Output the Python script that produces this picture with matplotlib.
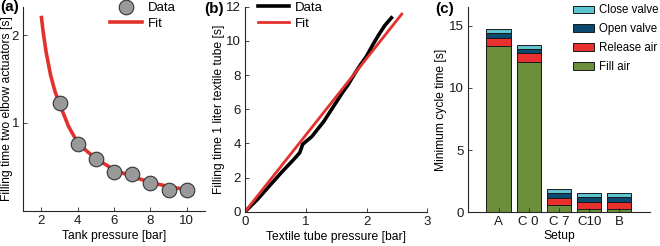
import matplotlib.pyplot as plt
from matplotlib.ticker import ScalarFormatter, NullLocator

plt.rcParams['font.family'] = ['Liberation Sans', 'DejaVu Sans']

# (a) filling time vs tank pressure
tank_p = [3, 4, 5, 6, 7, 8, 9, 10]
fill_t = [1.17, 0.85, 0.75, 0.68, 0.67, 0.62, 0.59, 0.59]
fit_p = [2, 2.1, 2.25, 2.5, 2.75, 3, 3.5, 4, 4.5, 5, 6, 7, 8, 9, 10]
fit_t = [2.30, 2.04, 1.76, 1.46, 1.28, 1.16, 0.97, 0.855, 0.80, 0.755, 0.69, 0.655, 0.625, 0.605, 0.59]

# (b) filling time vs textile tube pressure
tube_p = [0, 0.2, 0.4, 0.6, 0.8, 0.9, 0.95, 1.0, 1.1, 1.2, 1.3, 1.4, 1.5, 1.6, 1.7,
          1.8, 1.9, 2.0, 2.1, 2.2, 2.3, 2.41]
tube_t = [0, 0.7, 1.5, 2.3, 3.05, 3.45, 3.95, 4.1, 4.4, 4.85, 5.3, 5.85, 6.4, 6.95, 7.45,
          8.05, 8.6, 9.1, 9.75, 10.35, 10.9, 11.35]
line_p = [0, 2.58]
line_t = [0, 11.57]

# (c) minimum cycle time
setups = ['A', 'C 0', 'C 7', 'C10', 'B']
fill_air = [13.37, 12.11, 0.56, 0.24, 0.24]
release_air = [0.67, 0.67, 0.62, 0.62, 0.62]
open_valve = [0.40, 0.35, 0.40, 0.37, 0.37]
close_valve = [0.27, 0.29, 0.27, 0.30, 0.30]

red = '#e3312d'
axcol = '#262626'
fs = 9.5   # tick labels and legends
lfs = 8.7  # axis labels

fig = plt.figure(figsize=(6.6, 2.46), dpi=100)
ax1 = fig.add_axes([0.0353, 0.1435, 0.2753, 0.828])
ax2 = fig.add_axes([0.3712, 0.1394, 0.2762, 0.8333])
ax3 = fig.add_axes([0.7096, 0.137, 0.2745, 0.8346])

for ax in (ax1, ax2, ax3):
    ax.spines['top'].set_visible(False)
    ax.spines['right'].set_visible(False)
    for s in ('left', 'bottom'):
        ax.spines[s].set_color(axcol)
        ax.spines[s].set_linewidth(0.8)
    ax.tick_params(direction='in', length=3, width=0.6, colors=axcol, labelsize=fs,
                   labelcolor='#1a1a1a', pad=3)

# panel a
ax1.plot(fit_p, fit_t, color=red, lw=2.6, label='Fit', zorder=2)
ax1.plot(tank_p, fill_t, 'o', ms=10.5, mfc='#999999', mec='#333333', mew=0.8,
         label='Data', zorder=3)
ax1.set_yscale('log')
ax1.set_xlim(1, 11)
ax1.set_ylim(0.5, 2.5)
ax1.set_xticks([2, 4, 6, 8, 10])
ax1.set_yticks([1, 2])
ax1.yaxis.set_major_formatter(ScalarFormatter())
ax1.yaxis.set_minor_locator(NullLocator())
ax1.set_xlabel('Tank pressure [bar]', fontsize=lfs, labelpad=2)
ax1.set_ylabel('Filling time two elbow actuators [s]', fontsize=lfs)
ax1.yaxis.set_label_coords(-0.058, 0.5)
h, l = ax1.get_legend_handles_labels()
ax1.legend(h[::-1], l[::-1], loc='upper right', frameon=False, fontsize=fs,
           bbox_to_anchor=(0.87, 1.05), handlelength=2.4, borderaxespad=0,
           labelspacing=0.25, handletextpad=0.5)

# panel b
ax2.plot(tube_p, tube_t, color='black', lw=2.6, label='Data')
ax2.plot(line_p, line_t, color=red, lw=2.0, label='Fit')
ax2.set_xlim(0, 3)
ax2.set_ylim(0, 12)
ax2.set_xticks([0, 1, 2, 3])
ax2.set_yticks([0, 2, 4, 6, 8, 10, 12])
ax2.set_xlabel('Textile tube pressure [bar]', fontsize=lfs, labelpad=2)
ax2.set_ylabel('Filling time 1 liter textile tube [s]', fontsize=lfs, labelpad=1)
ax2.legend(loc='upper left', frameon=False, fontsize=fs, bbox_to_anchor=(0.04, 1.05),
           handlelength=2.4, borderaxespad=0, labelspacing=0.25, handletextpad=0.4)

# panel c
x = list(range(1, len(setups) + 1))
b1 = fill_air
b2 = [a + b for a, b in zip(b1, release_air)]
b3 = [a + b for a, b in zip(b2, open_valve)]
kw = dict(width=0.8, edgecolor='#1a1a1a', linewidth=0.7)
p1 = ax3.bar(x, fill_air, color='#6b8e3a', label='Fill air', **kw)
p2 = ax3.bar(x, release_air, bottom=b1, color='#e8312f', label='Release air', **kw)
p3 = ax3.bar(x, open_valve, bottom=b2, color='#0b4a70', label='Open valve', **kw)
p4 = ax3.bar(x, close_valve, bottom=b3, color='#5cc5d0', label='Close valve', **kw)
ax3.set_xlim(0, 6)
ax3.set_ylim(0, 16.5)
ax3.set_xticks(x)
ax3.set_xticklabels(setups)
ax3.set_yticks([0, 5, 10, 15])
ax3.set_xlabel('Setup', fontsize=lfs, labelpad=1)
ax3.set_ylabel('Minimum cycle time [s]', fontsize=lfs, labelpad=2)
ax3.legend([p4, p3, p2, p1], ['Close valve', 'Open valve', 'Release air', 'Fill air'],
           loc='upper left', frameon=False, fontsize=8.3, bbox_to_anchor=(0.55, 1.035),
           handlelength=1.9, handleheight=0.65, borderaxespad=0, labelspacing=0.6,
           handletextpad=0.4)

fig.text(0.0, 0.998, '(a)', fontsize=11, fontweight='bold', va='top', ha='left')
fig.text(0.310, 0.993, '(b)', fontsize=11, fontweight='bold', va='top', ha='left')
fig.text(0.660, 0.993, '(c)', fontsize=11, fontweight='bold', va='top', ha='left')

fig.savefig('out.png', dpi=100)
